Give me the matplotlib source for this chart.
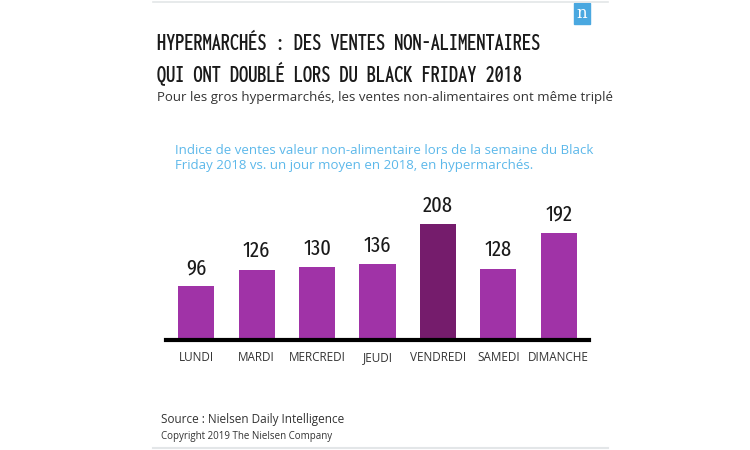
import matplotlib
matplotlib.use('Agg')
from matplotlib import pyplot as plt
from matplotlib import font_manager as fm

#Data
jours = ['LUNDI', 'MARDI', 'MERCREDI', 'JEUDI', 'VENDREDI', 'SAMEDI', 'DIMANCHE']
indices = [96, 126, 130, 136, 208, 128, 192]
couleurs = ['#a033a7', '#a033a7', '#a033a7', '#a033a7', '#751c6c', '#a033a7', '#a033a7']

#Look for the narrowest installed sans font files for the headline and the numbers
fichiers = [f.fname for f in fm.fontManager.ttflist]

def meilleur(prefs):
    for motifs in prefs:
        for fn in sorted(fichiers):
            nom = fn.split('/')[-1]
            if all(m in nom for m in motifs) and not any(
                    b in nom for b in ('Italic', 'Mono', 'Serif', 'Display')):
                return fm.FontProperties(fname=fn)
    return None

titre_fp = meilleur([['Sans-ExtraCondensedSemiBold'], ['Sans-ExtraCondensedMedium'],
                     ['ExtraCondensedSemiBold'], ['ExtraCondensedMedium'],
                     ['ExtraCondensedBold'], ['CondensedSemiBold'], ['CondensedBold'],
                     ['Narrow-Bold']])
chiffre_fp = meilleur([['Sans-ExtraCondensed.'], ['Sans-ExtraCondensed-Regular'],
                       ['ExtraCondensed-Regular'], ['ExtraCondensed.'],
                       ['Condensed-Regular'], ['Narrow-Regular']])
if titre_fp is None:
    titre_fp = fm.FontProperties(family='Liberation Sans', weight='bold')
if chiffre_fp is None:
    chiffre_fp = fm.FontProperties(family='Liberation Sans')
texte = 'Open Sans'

fig = plt.figure(figsize=(7.5, 4.5), dpi=100)

#Card frame lines and logo
fig.add_artist(plt.Line2D([153/750, 608/750], [1-2/450, 1-2/450], color='#e3e6e8', lw=1.2))
fig.add_artist(plt.Line2D([153/750, 608/750], [1-448/450, 1-448/450], color='#e3e6e8', lw=1.5))
fig.add_artist(plt.Rectangle((574/750, 1-24/450), 16/750, 21/450, color='#4aa8e0'))
fig.text(582/750, 1-14/450, 'n', color='white', fontsize=12, family='DejaVu Serif',
         ha='center', va='center')

#Titles, sized so that the first line spans the same width as the original
t1 = fig.text(157/750, 1-43/450, 'HYPERMARCHÉS : DES VENTES NON-ALIMENTAIRES',
              fontproperties=titre_fp, fontsize=20, color='#1a1a1a', va='center')
t2 = fig.text(157/750, 1-74/450, 'QUI ONT DOUBLÉ LORS DU BLACK FRIDAY 2018',
              fontproperties=titre_fp, fontsize=20, color='#1a1a1a', va='center')
rend = fig.canvas.get_renderer()
largeur = t1.get_window_extent(rend).width
taille = min(21, 20 * 383 / largeur)
t1.set_fontsize(taille)
t2.set_fontsize(taille)

fig.text(157/750, 1-97/450, 'Pour les gros hypermarchés, les ventes non-alimentaires ont même triplé',
         family=texte, fontsize=9.5, color='#333333', va='center')
fig.text(175/750, 1-151/450, 'Indice de ventes valeur non-alimentaire lors de la semaine du Black',
         family=texte, fontsize=9.5, color='#5cb8ea', va='center')
fig.text(175/750, 1-166/450, 'Friday 2018 vs. un jour moyen en 2018, en hypermarchés.',
         family=texte, fontsize=9.5, color='#5cb8ea', va='center')

#Bar chart
ax = fig.add_axes([166/750, 110/450, 423/750, 134/450])
x = range(len(jours))
ax.bar(x, indices, width=0.6, color=couleurs)
for i, v in zip(x, indices):
    ax.text(i, v + 14, str(v), ha='center', va='bottom', fontproperties=chiffre_fp,
            fontsize=16, color='#1a1a1a')
ax.set_xlim(-0.5, 6.5)
ax.set_ylim(0, 240)
ax.set_xticks(list(x))
ax.set_xticklabels(jours, family=texte, fontsize=8.5, color='#333333')
ax.tick_params(axis='x', length=0, pad=8)
ax.set_yticks([])
for s in ['top', 'right', 'left']:
    ax.spines[s].set_visible(False)
ax.spines['bottom'].set_linewidth(3)
ax.spines['bottom'].set_color('black')
ax.patch.set_alpha(0)

#Footer
fig.text(161/750, 1-420/450, 'Source : Nielsen Daily Intelligence', family=texte,
         fontsize=8.5, color='#333333', va='center')
fig.text(161/750, 1-437/450, 'Copyright 2019 The Nielsen Company', family=texte,
         fontsize=7, color='#333333', va='center')

plt.savefig('out.png', dpi=100)
